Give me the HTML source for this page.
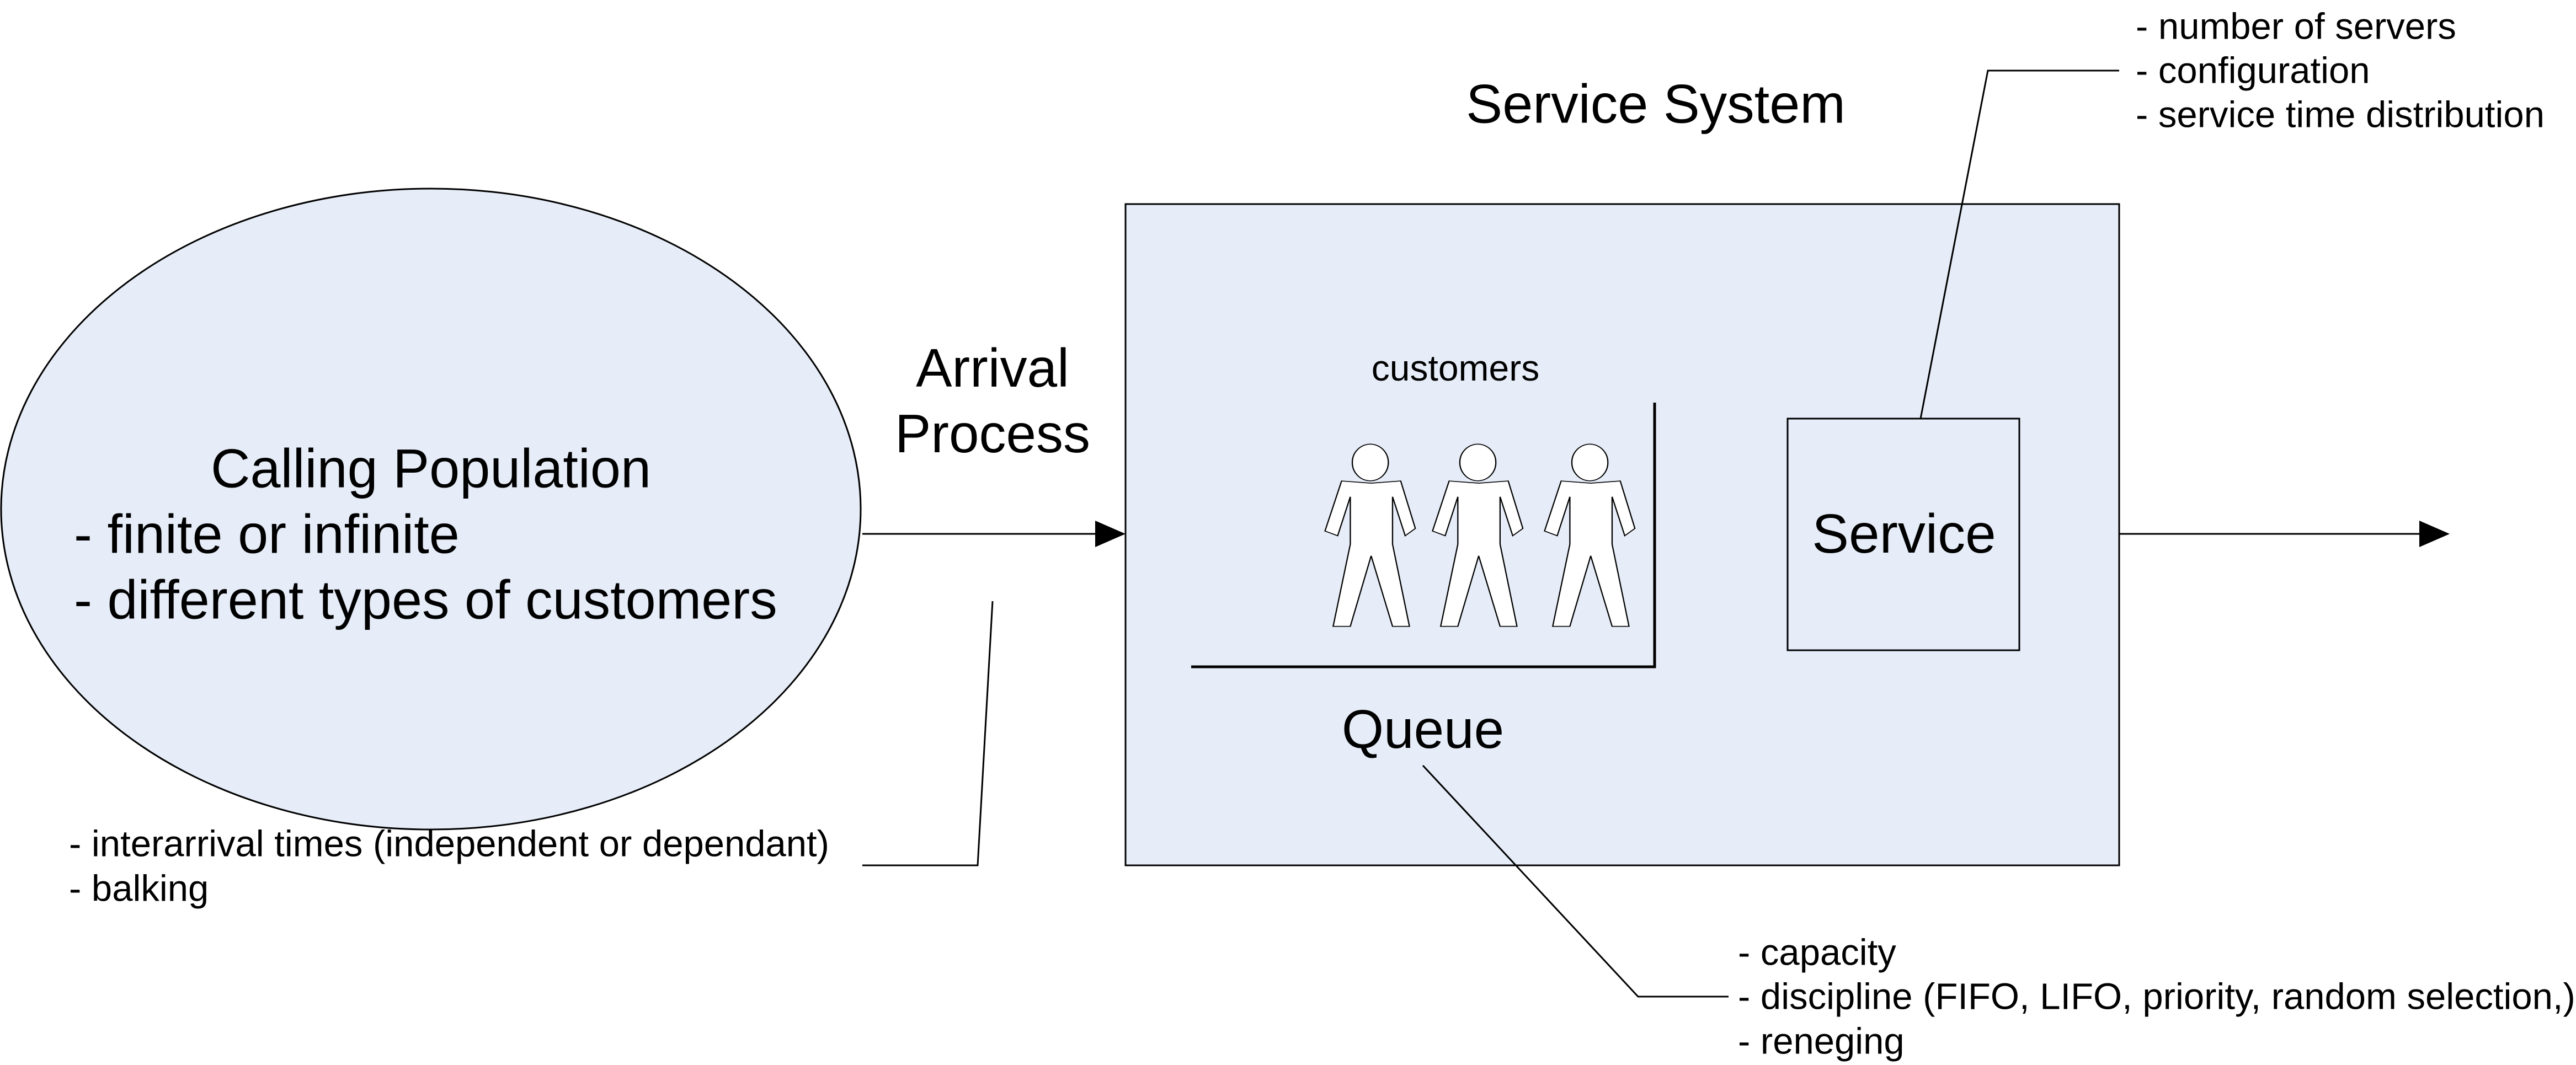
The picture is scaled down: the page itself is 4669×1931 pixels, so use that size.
<!DOCTYPE html>
<html><head><meta charset="utf-8"><style>html,body{margin:0;padding:0;background:#fff}svg{display:block}</style></head>
<body>
<svg width="4669" height="1931" viewBox="0 0 4669 1931" xmlns="http://www.w3.org/2000/svg" font-family="Liberation Sans, Arial, sans-serif">
<rect width="4669" height="1931" fill="#fff"/>
<ellipse cx="781" cy="923" rx="779" ry="581" fill="#e6edf8" stroke="#000" stroke-width="3"/>
<rect x="2040" y="370" width="1801" height="1199" fill="#e6edf8" stroke="#000" stroke-width="3"/>
<rect x="3240" y="759" width="420" height="420" fill="#e6edf8" stroke="#000" stroke-width="3"/>
<g stroke="#000" stroke-width="3" fill="none">
<polyline points="2159,1209 2999,1209 2999,730" stroke-width="5"/>
<line x1="1563" y1="968" x2="1985" y2="968"/>
<line x1="3841" y1="968" x2="4385" y2="968"/>
<polyline points="3481,759 3603,128 3841,128"/>
<polyline points="2579,1388 2969,1807 3133,1807"/>
<polyline points="1799,1090 1772,1569 1563,1569"/>
</g>
<polygon points="1985,944 2040,968 1985,992" fill="#000"/>
<polygon points="4385,944 4440,968 4385,992" fill="#000"/>
<defs>
<g id="p" fill="#fff" stroke="#000" stroke-width="4.5" stroke-linejoin="miter">
<ellipse cx="360" cy="388" rx="64" ry="93"/>
<polygon points="258,482 363,493 468,482 520,723 484,760 439,562 439,803 499,1220 439,1220 363,862 289,1220 228,1220 289,803 289,562 244,760 199,736"/>
</g>
</defs>
<g transform="translate(2300,700) scale(0.5102,0.3571)">
<use href="#p"/>
<use href="#p" transform="translate(382,0)"/>
<use href="#p" transform="translate(780,0)"/>
</g>
<g fill="#000" dominant-baseline="central">
<text x="781" y="849" font-size="99" text-anchor="middle">Calling Population</text>
<text x="134" y="968" font-size="99">- finite or infinite</text>
<text x="134" y="1087" font-size="99">- different types of customers</text>
<text x="1799" y="667" font-size="98" text-anchor="middle">Arrival</text>
<text x="1799" y="786" font-size="98" text-anchor="middle">Process</text>
<text x="3001" y="188" font-size="99" text-anchor="middle">Service System</text>
<text x="2638" y="667" font-size="66" text-anchor="middle">customers</text>
<text x="2579" y="1322" font-size="98" text-anchor="middle">Queue</text>
<text x="3451" y="968" font-size="100" text-anchor="middle">Service</text>
<text x="3871" y="48" font-size="67">- number of servers</text>
<text x="3871" y="128" font-size="67">- configuration</text>
<text x="3871" y="208" font-size="67">- service time distribution</text>
<text x="3150" y="1727" font-size="67">- capacity</text>
<text x="3150" y="1807" font-size="67">- discipline (FIFO, LIFO, priority, random selection,)</text>
<text x="3150" y="1888" font-size="67">- reneging</text>
<text x="125" y="1530" font-size="67">- interarrival times (independent or dependant)</text>
<text x="125" y="1611" font-size="67">- balking</text>
</g>
</svg>
</body></html>
